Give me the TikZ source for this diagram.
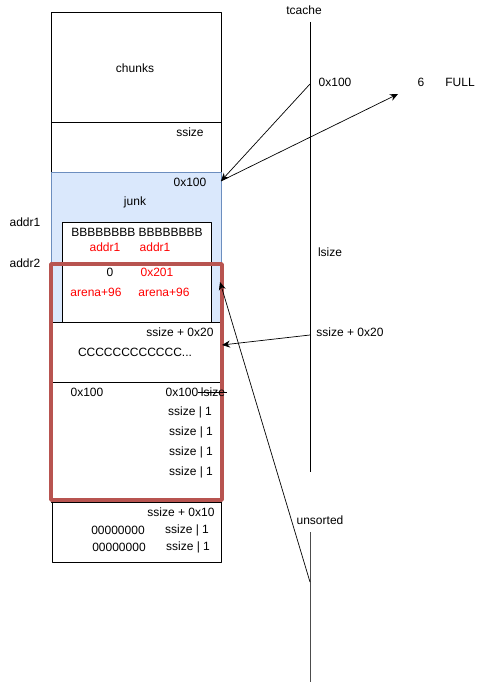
\documentclass[tikz,border=0pt]{standalone}
\usepackage{fontspec}
\setmainfont{Liberation Sans}
\usetikzlibrary{arrows.meta}
\definecolor{blockblue}{HTML}{DAE8FC}
\definecolor{blockedge}{HTML}{6C8EBF}
\definecolor{markred}{HTML}{B85450}

\begin{document}
\begin{tikzpicture}[x=1bp,y=-1bp,>={Stealth[length=8bp,width=7bp]},line join=bevel,
  cell/.style={draw,line width=0.8bp,inner sep=0pt,minimum width=170bp},
  lbl/.style={inner sep=0pt,font=\fontsize{12bp}{14bp}\selectfont},
  redlbl/.style={lbl,text=red},
  ptr/.style={->,line width=0.7bp}]
\useasboundingbox (0,0) rectangle (481,684);
%% memory blocks
\node (chunks) at (136,67) [cell,minimum height=110bp] {};
\node (hdr) at (136,147) [cell,minimum height=50bp] {};
\node (junkblk) at (136,247) [cell,fill=blockblue,draw=blockedge,minimum height=150bp] {};
\node (fake) at (136.5,272) [cell,fill=white,minimum width=149bp,minimum height=100bp] {};
\node (cblk) at (136,352) [cell,minimum height=60bp] {};
\node (listblk) at (136,442) [cell,minimum height=120bp] {};
\node (lastblk) at (136.5,532) [cell,minimum width=169bp,minimum height=60bp] {};
\node (overlap) at (136.5,382) [draw=markred,line width=4bp,inner sep=0pt,minimum width=171bp,minimum height=236bp] {};
%% bins
\node (tcache) at (304,10) [lbl] {tcache};
\node (unsorted) at (320,520) [lbl] {unsorted};
\draw [line width=0.8bp] (310,22) -- (310,472);
\draw [line width=0.8bp,black!70] (310,532) -- (310,682);
%% texts
\node (t_chunks) at (135,68) [lbl] {chunks};
\node (t_ssize) at (190,132) [lbl] {ssize};
\node (t_hex) at (190,182) [lbl] {0x100};
\node (t_junk) at (135,202) [lbl] {junk};
\node (t_addr1) at (25,222) [lbl] {addr1};
\node (t_addr2) at (25,263) [lbl] {addr2};
\node (t_bb) at (137,232) [lbl] {BBBBBBBB BBBBBBBB};
\node (t_fd) at (105,247) [redlbl] {addr1};
\node (t_bk) at (155,247) [redlbl] {addr1};
\node (t_zero) at (110,272) [lbl] {0};
\node (t_sz) at (157,272) [redlbl] {0x201};
\node (t_ar1) at (96,292) [redlbl] {arena+96};
\node (t_ar2) at (164,292) [redlbl] {arena+96};
\node (t_s20) at (180,332) [lbl] {ssize + 0x20};
\node (t_cc) at (135,352) [lbl] {CCCCCCCCCCCC...};
\node (t_p1) at (87,392) [lbl] {0x100};
\node (t_p2) at (182,392) [lbl] {0x100};
\node (t_ls) at (213,392) [lbl] {lsize};
\draw [line width=0.9bp] ([xshift=-3bp]t_ls.west) -- ([xshift=2bp]t_ls.east);
\node (t_o1) at (190,412) [lbl] {ssize | 1};
\node (t_o2) at (191,432) [lbl] {ssize | 1};
\node (t_o3) at (191,452) [lbl] {ssize | 1};
\node (t_o4) at (191,472) [lbl] {ssize | 1};
\node (t_s10) at (181,512) [lbl] {ssize + 0x10};
\node (t_z1) at (118,530) [lbl] {00000000};
\node (t_q1) at (187,530) [lbl] {ssize | 1};
\node (t_z2) at (119,547) [lbl] {00000000};
\node (t_q2) at (188,547) [lbl] {ssize | 1};
\node (t_lsize) at (330,252) [lbl] {lsize};
\node (t_ent) at (350,332) [lbl] {ssize + 0x20};
\node (t_tc) at (335,82) [lbl] {0x100};
\node (t_cnt) at (421,82) [lbl] {6};
\node (t_full) at (460,82) [lbl] {FULL};
%% pointers
\coordinate (tc_src) at (310,84);
\coordinate (tc_dst) at (221,181);
\coordinate (cnt_dst) at (398,94);
\coordinate (ent_src) at (310,335);
\coordinate (ent_dst) at (222,345);
\coordinate (us_src) at (310,582);
\coordinate (us_dst) at (220,282);
\draw [ptr] (tc_src) -- (tc_dst);
\draw [ptr] (tc_dst) -- (cnt_dst);
\draw [ptr] (ent_src) -- (ent_dst);
\draw [ptr] (us_src) -- (us_dst);
%
\end{tikzpicture}
\end{document}
